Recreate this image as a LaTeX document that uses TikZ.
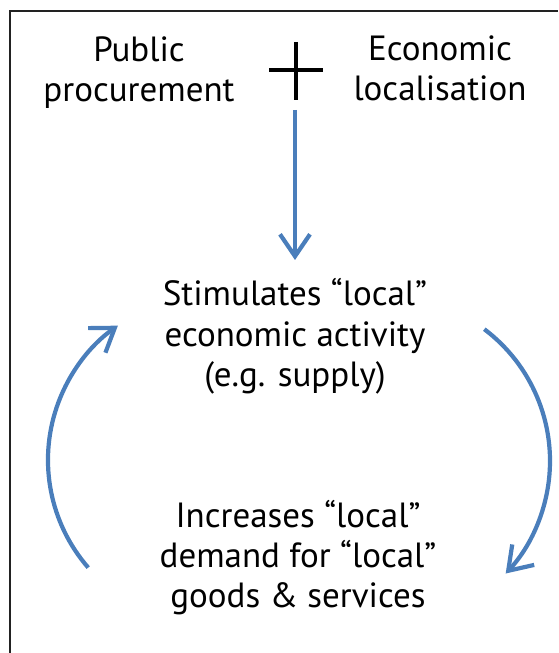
\documentclass[tikz,border=0pt]{standalone}
\usepackage{fontspec}
\setmainfont{PT Sans}
\usetikzlibrary{arrows.meta}
\definecolor{flowblue}{HTML}{4A7EBB}
\definecolor{frameink}{HTML}{222222}
\tikzset{
  txt/.style={align=center, inner sep=0pt, anchor=base, font=\fontsize{35}{40.5}\selectfont},
  flow/.style={draw=flowblue, line width=4.2pt, -{Straight Barb[length=22pt, width=30pt, line width=4.2pt]}},
  frame/.style={draw=frameink, line width=2.5pt},
  plusbar/.style={draw=black, line width=4.8pt}
}
\begin{document}
\begin{tikzpicture}[x=1pt, y=1pt]
\useasboundingbox (0,0) rectangle (558,653);
% frame
\draw[frame] (10,0) -- (10,642) -- (558,642);
% texts (anchor base = baseline of last line)
\node[txt] (pub) at (139,551) {Public\\procurement};
\node[txt] (eco) at (440,552) {Economic\\localisation};
\node[txt] (stim) at (295,266) {Stimulates “local”\\economic activity\\(e.g. supply)};
\node[txt] (inc) at (298,45) {Increases “local”\\demand for “local”\\goods \& services};
% plus sign
\coordinate (plus) at (296,583);
\draw[plusbar] ([yshift=28pt]plus) -- ([yshift=-30pt]plus);
\draw[plusbar] ([xshift=-27pt]plus) -- ([xshift=27pt]plus);
% arrows
\coordinate (dtop) at (295,543);
\coordinate (dbot) at (295,393);
\draw[flow] (dtop) -- (dbot);
\coordinate (lstart) at (88.2,85.4);
\draw[flow] (lstart) arc[start angle=221, end angle=125, radius=164];
\coordinate (rstart) at (484.3,323.8);
\draw[flow] (rstart) arc[start angle=53, end angle=-43, radius=165];
\end{tikzpicture}
\end{document}
